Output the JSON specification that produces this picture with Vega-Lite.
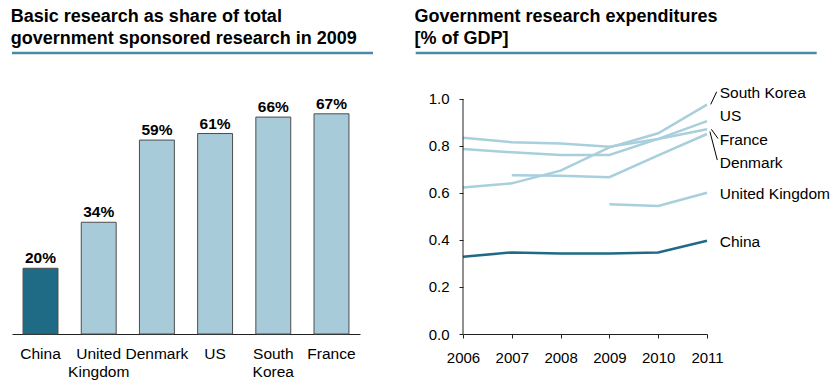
{
  "$schema": "https://vega.github.io/schema/vega-lite/v6.json",
  "padding": {"left": 10, "top": 8, "right": 0, "bottom": 0},
  "background": "white",
  "config": {
    "view": {"stroke": null},
    "font": "Liberation Sans",
    "text": {"font": "Liberation Sans"},
    "axis": {"labelFont": "Liberation Sans", "labelColor": "#000", "domainColor": "#222", "tickColor": "#222", "grid": false, "title": null},
    "title": {"font": "Liberation Sans", "fontSize": 18, "fontWeight": "bold", "color": "#000", "anchor": "start", "lineHeight": 21.6, "offset": 4}
  },
  "spacing": 39,
  "hconcat": [
    {
      "width": 348,
      "height": 281,
      "title": {"text": ["Basic research as share of total", "government sponsored research in 2009"]},
      "data": {"values": [
        {"country": "China", "share": 0.20},
        {"country": "United Kingdom", "share": 0.34},
        {"country": "Denmark", "share": 0.59},
        {"country": "US", "share": 0.61},
        {"country": "South Korea", "share": 0.66},
        {"country": "France", "share": 0.67}
      ]},
      "layer": [
        {
          "encoding": {
            "x": {"field": "country", "type": "nominal", "sort": null,
              "scale": {"paddingInner": 0.4, "paddingOuter": 0.19},
              "axis": {"labelAngle": 0, "labelFontSize": 15.5, "labelPadding": 12, "ticks": false, "tickSize": 0, "domain": true, "domainWidth": 1, "labelLineHeight": 18.5, "labelExpr": "split(datum.value, ' ')", "labelBaseline": "top"}},
            "y": {"field": "share", "type": "quantitative", "scale": {"domain": [0, 0.855], "nice": false}, "axis": null}
          },
          "layer": [
            {
              "mark": {"type": "bar", "stroke": "#4d4d4d", "strokeWidth": 1},
              "encoding": {
                "color": {"condition": {"test": "datum.country === 'China'", "value": "#1f6a85"}, "value": "#a7cbd9"}
              }
            },
            {
              "mark": {"type": "text", "baseline": "alphabetic", "dy": -5, "fontWeight": "bold", "fontSize": 15.5, "color": "#000"},
              "encoding": {
                "text": {"field": "share", "type": "quantitative", "format": ".0%"}
              }
            }
          ]
        },
        {
          "data": {"values": [{}]},
          "mark": {"type": "rule", "color": "#4a8aa6", "strokeWidth": 2.5},
          "encoding": {
            "x": {"datum": 0, "type": "quantitative", "scale": {"domain": [0, 1], "nice": false, "zero": false}, "axis": null},
            "x2": {"datum": 1.0374},
            "y": {"datum": 0.855, "type": "quantitative"}
          }
        }
      ],
      "resolve": {"scale": {"x": "independent"}}
    },
    {
      "width": 244,
      "height": 281,
      "title": {"text": ["Government research expenditures", "[% of GDP]"]},
      "layer": [
        {
          "data": {"values": [
            {"country": "United Kingdom", "year": 2009, "value": 0.552},
            {"country": "United Kingdom", "year": 2010, "value": 0.545},
            {"country": "United Kingdom", "year": 2011, "value": 0.601},
            {"country": "Denmark", "year": 2007, "value": 0.675},
            {"country": "Denmark", "year": 2008, "value": 0.673},
            {"country": "Denmark", "year": 2009, "value": 0.667},
            {"country": "Denmark", "year": 2010, "value": 0.760},
            {"country": "Denmark", "year": 2011, "value": 0.851},
            {"country": "US", "year": 2006, "value": 0.787},
            {"country": "US", "year": 2007, "value": 0.773},
            {"country": "US", "year": 2008, "value": 0.762},
            {"country": "US", "year": 2009, "value": 0.762},
            {"country": "US", "year": 2010, "value": 0.830},
            {"country": "US", "year": 2011, "value": 0.906},
            {"country": "France", "year": 2006, "value": 0.835},
            {"country": "France", "year": 2007, "value": 0.816},
            {"country": "France", "year": 2008, "value": 0.811},
            {"country": "France", "year": 2009, "value": 0.797},
            {"country": "France", "year": 2010, "value": 0.830},
            {"country": "France", "year": 2011, "value": 0.871},
            {"country": "South Korea", "year": 2006, "value": 0.623},
            {"country": "South Korea", "year": 2007, "value": 0.641},
            {"country": "South Korea", "year": 2008, "value": 0.695},
            {"country": "South Korea", "year": 2009, "value": 0.794},
            {"country": "South Korea", "year": 2010, "value": 0.854},
            {"country": "South Korea", "year": 2011, "value": 0.976},
            {"country": "China", "year": 2006, "value": 0.329},
            {"country": "China", "year": 2007, "value": 0.347},
            {"country": "China", "year": 2008, "value": 0.343},
            {"country": "China", "year": 2009, "value": 0.343},
            {"country": "China", "year": 2010, "value": 0.347},
            {"country": "China", "year": 2011, "value": 0.397}
          ]},
          "mark": {"type": "line", "strokeWidth": 2.5},
          "encoding": {
            "x": {"field": "year", "type": "quantitative",
              "scale": {"domain": [2006, 2011], "nice": false, "zero": false},
              "axis": {"values": [2006, 2007, 2008, 2009, 2010, 2011], "format": "d", "labelFontSize": 15, "tickSize": 4, "labelPadding": 12, "domain": true, "domainWidth": 1, "labelFlush": false}},
            "y": {"field": "value", "type": "quantitative",
              "scale": {"domain": [0, 1.1957], "nice": false},
              "axis": {"values": [0, 0.2, 0.4, 0.6, 0.8, 1.0], "format": ".1f", "labelFontSize": 15, "tickSize": 4, "labelPadding": 10, "domain": false}},
            "color": {"field": "country", "type": "nominal",
              "scale": {"domain": ["United Kingdom", "Denmark", "US", "France", "South Korea", "China"], "range": ["#a8cfdc", "#a8cfdc", "#a8cfdc", "#a8cfdc", "#a8cfdc", "#1f6a85"]},
              "legend": null}
          }
        },
        {
          "data": {"values": [{}]},
          "mark": {"type": "rule", "color": "#222", "strokeWidth": 1},
          "encoding": {"x": {"datum": 2006}, "y": {"datum": 0}, "y2": {"datum": 1}}
        },
        {
          "data": {"values": [{}]},
          "mark": {"type": "rule", "color": "#4a8aa6", "strokeWidth": 2.5},
          "encoding": {"x": {"datum": 2005.031}, "x2": {"datum": 2013.248}, "y": {"datum": 1.1957}}
        },
        {
          "data": {"values": [
            {"label": "South Korea", "lx": 2011.26, "ly": 1.027},
            {"label": "US", "lx": 2011.26, "ly": 0.929},
            {"label": "France", "lx": 2011.26, "ly": 0.827},
            {"label": "Denmark", "lx": 2011.26, "ly": 0.729},
            {"label": "United Kingdom", "lx": 2011.26, "ly": 0.597},
            {"label": "China", "lx": 2011.26, "ly": 0.393}
          ]},
          "mark": {"type": "text", "align": "left", "baseline": "middle", "fontSize": 15.5, "color": "#000"},
          "encoding": {
            "x": {"field": "lx", "type": "quantitative"},
            "y": {"field": "ly", "type": "quantitative"},
            "text": {"field": "label"}
          }
        },
        {
          "data": {"values": [
            {"label": "South Korea", "x1": 2011.076, "y1": 0.977, "x2": 2011.199, "y2": 1.031},
            {"label": "France", "x1": 2011.09, "y1": 0.871, "x2": 2011.225, "y2": 0.832},
            {"label": "Denmark", "x1": 2011.06, "y1": 0.861, "x2": 2011.211, "y2": 0.740}
          ]},
          "mark": {"type": "rule", "color": "#000", "strokeWidth": 1},
          "encoding": {
            "x": {"field": "x1", "type": "quantitative"},
            "y": {"field": "y1", "type": "quantitative"},
            "x2": {"field": "x2"},
            "y2": {"field": "y2"}
          }
        }
      ]
    }
  ]
}
